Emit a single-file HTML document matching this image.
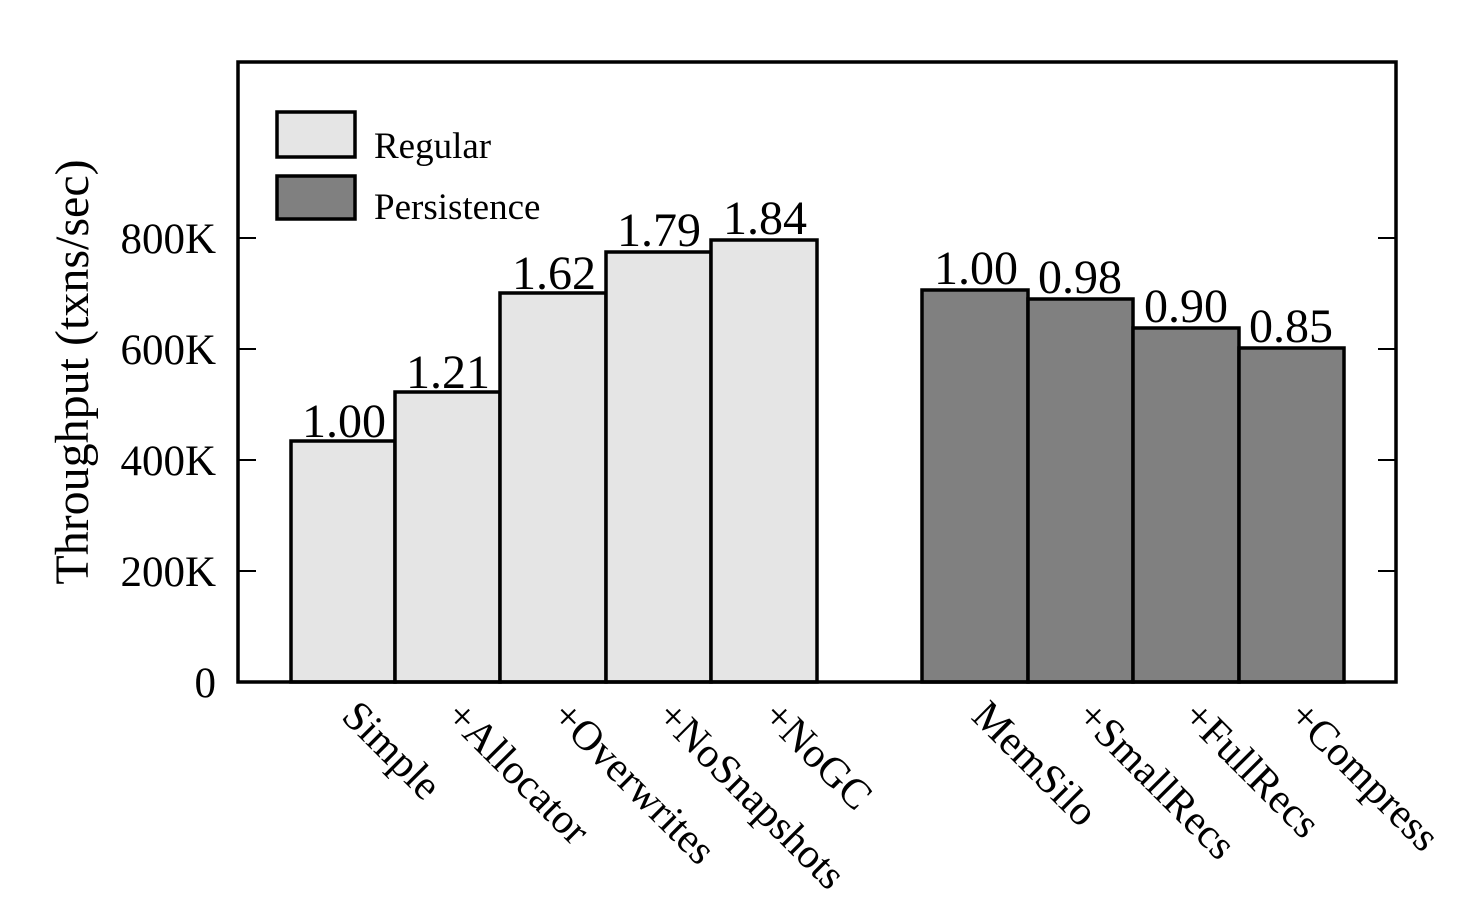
<!DOCTYPE html>
<html><head><style>html,body{margin:0;padding:0;background:#fff}</style></head>
<body>
<svg width="1472" height="916" viewBox="0 0 1472 916" xmlns="http://www.w3.org/2000/svg" font-family="'Liberation Serif', serif">
<g stroke="#000" stroke-width="3.5">
<rect x="291" y="441" width="104" height="241" fill="#e5e5e5"/>
<rect x="395" y="392" width="105" height="290" fill="#e5e5e5"/>
<rect x="500" y="293" width="106" height="389" fill="#e5e5e5"/>
<rect x="606" y="252" width="105" height="430" fill="#e5e5e5"/>
<rect x="711" y="240" width="106" height="442" fill="#e5e5e5"/>
<rect x="922" y="290" width="106" height="392" fill="#808080"/>
<rect x="1028" y="299" width="105" height="383" fill="#808080"/>
<rect x="1133" y="328" width="106" height="354" fill="#808080"/>
<rect x="1239" y="348" width="105" height="334" fill="#808080"/>
<rect x="277" y="112" width="78" height="45" fill="#e5e5e5"/>
<rect x="277" y="176" width="78" height="43" fill="#808080"/>
</g>
<g stroke="#000" stroke-width="2">
<line x1="238" y1="571" x2="256" y2="571"/><line x1="238" y1="460" x2="256" y2="460"/>
<line x1="238" y1="349" x2="256" y2="349"/><line x1="238" y1="238" x2="256" y2="238"/>
<line x1="1396" y1="571" x2="1378" y2="571"/><line x1="1396" y1="460" x2="1378" y2="460"/>
<line x1="1396" y1="349" x2="1378" y2="349"/><line x1="1396" y1="238" x2="1378" y2="238"/>
</g>
<rect x="238" y="62" width="1158" height="620" fill="none" stroke="#000" stroke-width="3.5"/>
<g font-size="43" text-anchor="end">
<text x="216" y="697">0</text><text x="216" y="586">200K</text><text x="216" y="475">400K</text>
<text x="216" y="364">600K</text><text x="216" y="253">800K</text>
</g>
<text transform="translate(88,372) rotate(-90)" font-size="48" text-anchor="middle">Throughput (txns/sec)</text>
<g font-size="37"><text x="374" y="158">Regular</text><text x="374" y="219">Persistence</text></g>
<g font-size="48" text-anchor="middle">
<text x="344" y="437">1.00</text><text x="448" y="388">1.21</text><text x="554" y="289">1.62</text>
<text x="659" y="246">1.79</text><text x="765" y="234">1.84</text>
<text x="976" y="284">1.00</text><text x="1080" y="293">0.98</text><text x="1186" y="322">0.90</text>
<text x="1291" y="342">0.85</text>
</g>
<g font-size="42">
<text transform="translate(340,718) rotate(45)">Simple</text>
<text transform="translate(444,718) rotate(45)">+Allocator</text>
<text transform="translate(550,718) rotate(45)">+Overwrites</text>
<text transform="translate(655,718) rotate(45)">+NoSnapshots</text>
<text transform="translate(761,718) rotate(45)">+NoGC</text>
<text transform="translate(970,718) rotate(45)">MemSilo</text>
<text transform="translate(1075,718) rotate(45)">+SmallRecs</text>
<text transform="translate(1181,718) rotate(45)">+FullRecs</text>
<text transform="translate(1287,718) rotate(45)">+Compress</text>
</g>
</svg>
</body></html>
